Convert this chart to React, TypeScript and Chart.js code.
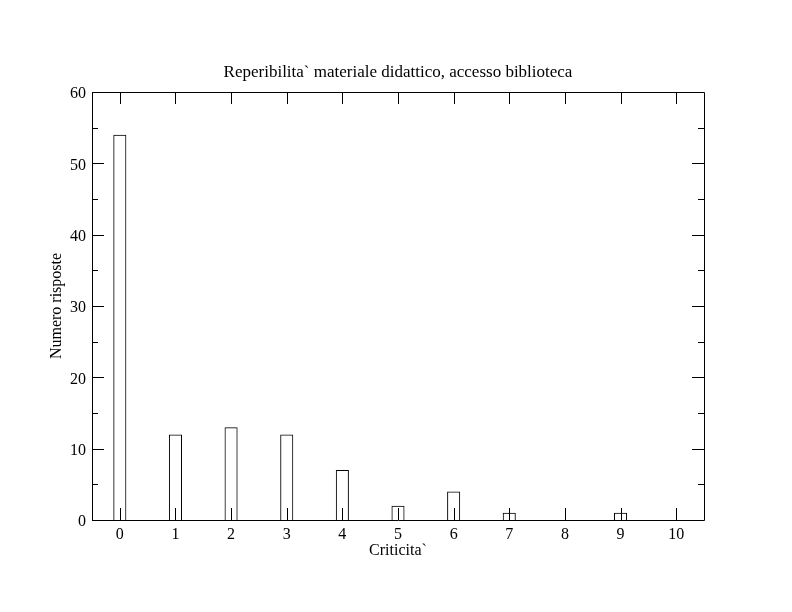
import React, { useEffect, useRef } from 'react';
import { Chart, registerables } from 'chart.js';

Chart.register(...registerables);

const categories = [0, 1, 2, 3, 4, 5, 6, 7, 8, 9, 10];
const counts = [54, 12, 13, 12, 7, 2, 4, 1, 0, 1, 0];
const yMajorTicks = [0, 10, 20, 30, 40, 50, 60];
const yMinorTicks = [5, 15, 25, 35, 45, 55];
const titleText = 'Reperibilita` materiale didattico, accesso biblioteca';
const xTitleText = 'Criticita`';
const yTitleText = 'Numero risposte';

const FONT = "'Liberation Serif', 'Times New Roman', Times, serif";

const frameTicks = {
  id: 'frameTicks',
  afterDatasetsDraw(chart: any) {
    const { ctx, chartArea: a, scales } = chart;
    const x = scales.x;
    const y = scales.y;
    ctx.save();
    ctx.strokeStyle = '#000';
    ctx.lineWidth = 1;
    ctx.beginPath();
    ctx.rect(a.left + 0.5, a.top + 0.5, a.right - a.left, a.bottom - a.top);
    for (const v of categories) {
      const px = Math.round(x.getPixelForValue(v)) + 0.5;
      ctx.moveTo(px, a.bottom);
      ctx.lineTo(px, a.bottom - 12);
      ctx.moveTo(px, a.top);
      ctx.lineTo(px, a.top + 12);
    }
    for (const v of yMajorTicks) {
      const py = Math.round(y.getPixelForValue(v)) + 0.5;
      ctx.moveTo(a.left, py);
      ctx.lineTo(a.left + 12, py);
      ctx.moveTo(a.right, py);
      ctx.lineTo(a.right - 12, py);
    }
    for (const v of yMinorTicks) {
      const py = Math.round(y.getPixelForValue(v)) + 0.5;
      ctx.moveTo(a.left, py);
      ctx.lineTo(a.left + 6, py);
      ctx.moveTo(a.right, py);
      ctx.lineTo(a.right - 6, py);
    }
    ctx.stroke();
    ctx.restore();
  },
};

export default function App() {
  const canvasRef = useRef<HTMLCanvasElement | null>(null);

  useEffect(() => {
    document.body.style.margin = '0';
    const canvas = canvasRef.current;
    if (!canvas) return;
    const chart = new Chart(canvas, {
      type: 'bar',
      data: {
        datasets: [
          {
            data: categories.map((c, i) => ({ x: c, y: counts[i] })),
            backgroundColor: 'rgba(255,255,255,0)',
            borderColor: '#000',
            borderWidth: 1,
            barPercentage: 0.235,
            categoryPercentage: 1,
          } as any,
        ],
      },
      options: {
        animation: false,
        responsive: false,
        devicePixelRatio: 1,
        layout: { padding: { left: 0, right: 88, top: 0, bottom: 0 } },
        plugins: {
          legend: { display: false },
          tooltip: { enabled: false },
          title: {
            display: true,
            fullSize: false,
            text: titleText,
            color: '#000',
            font: { family: FONT, size: 17, weight: 'normal' },
            padding: { top: 62, bottom: 9.6 },
          },
        },
        scales: {
          x: {
            type: 'linear',
            offset: false,
            min: -0.5,
            max: 10.5,
            afterBuildTicks: (s: any) => {
              s.ticks = categories.map((v) => ({ value: v }));
            },
            afterFit: (s: any) => {
              s.height = 92;
            },
            grid: { display: false, drawTicks: false },
            border: { display: false },
            ticks: {
              color: '#000',
              font: { family: FONT, size: 16 },
              padding: 5,
              maxRotation: 0,
              autoSkip: false,
            },
            title: {
              display: true,
              text: xTitleText,
              color: '#000',
              font: { family: FONT, size: 16 },
              padding: { top: 0, bottom: 52 },
            },
          },
          y: {
            min: 0,
            max: 60,
            afterFit: (s: any) => {
              s.width = 92;
            },
            grid: { display: false, drawTicks: false },
            border: { display: false },
            ticks: {
              stepSize: 10,
              color: '#000',
              font: { family: FONT, size: 16 },
              padding: 6,
              labelOffset: 2,
            },
            title: {
              display: true,
              text: yTitleText,
              color: '#000',
              font: { family: FONT, size: 16 },
              padding: { top: 47, bottom: 0 },
            },
          },
        },
      } as any,
      plugins: [frameTicks],
    });
    return () => chart.destroy();
  }, []);

  return (
    <div style={{ position: 'absolute', left: 0, top: 0, width: 792, height: 612, background: '#fff' }}>
      <canvas ref={canvasRef} width={792} height={612} />
    </div>
  );
}
